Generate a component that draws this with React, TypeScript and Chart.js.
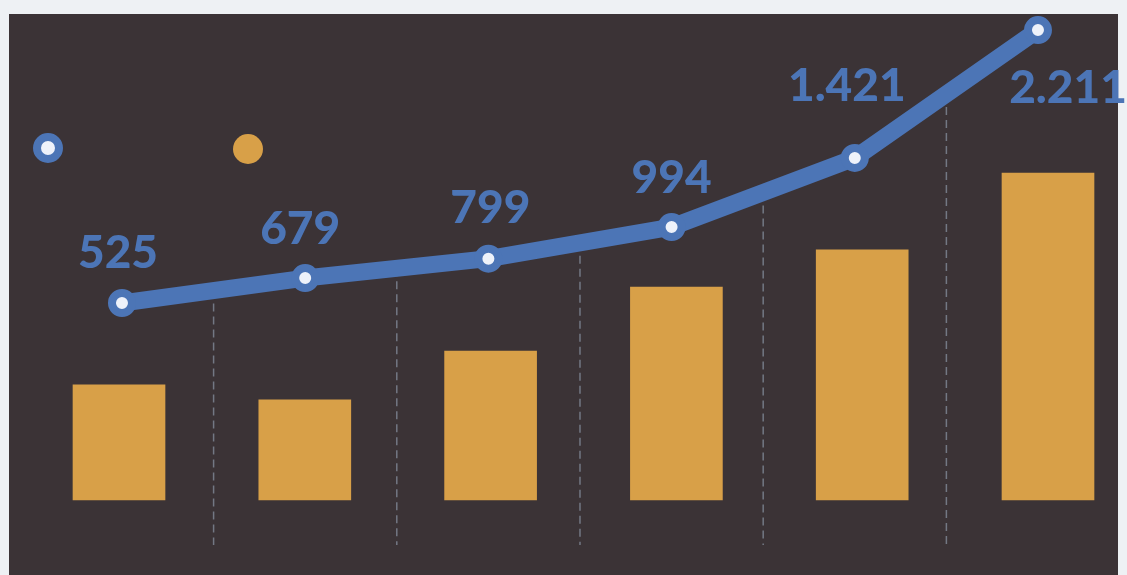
import React, { useEffect, useRef } from "react";
import { Chart, registerables } from "chart.js";

Chart.register(...registerables);

const categories = ["1", "2", "3", "4", "5", "6"];
const lineValues = [525, 679, 799, 994, 1421, 2211];
const barValues = [4610, 4010, 5970, 8530, 10020, 13100];

const BG_OUTER = "#eef1f4";
const BG_PANEL = "#3b3336";
const BLUE = "#4c75b6";
const GOLD = "#d8a048";
const GRID = "#737884";

function fmt(n: number): string {
  if (n < 1000) return String(n);
  return Math.floor(n / 1000) + "." + String(n % 1000).padStart(3, "0");
}

// per-point label placement tweaks (style only)
const labelDx = [-4, -5, 2, 0, -8, 30];
const labelDy = [-35, -34, -36, -34, -57, 73];

const decorPlugin = {
  id: "decor",
  beforeDraw(chart: any) {
    const { ctx, width, height } = chart;
    ctx.save();
    ctx.fillStyle = BG_OUTER;
    ctx.fillRect(0, 0, width, height);
    ctx.fillStyle = BG_PANEL;
    ctx.fillRect(9, 14, 1109, height - 14);
    ctx.restore();
  },
  beforeDatasetsDraw(chart: any) {
    const { ctx } = chart;
    const meta = chart.getDatasetMeta(0);
    const pts = meta.data;
    const bottom = chart.chartArea.bottom - 30;
    ctx.save();
    ctx.strokeStyle = GRID;
    ctx.lineWidth = 1.5;
    ctx.setLineDash([8, 5]);
    for (let i = 0; i < pts.length - 1; i++) {
      const a = pts[i];
      const b = pts[i + 1];
      const x = (a.x + b.x) / 2;
      const y = (a.y + b.y) / 2;
      ctx.beginPath();
      ctx.moveTo(x, y);
      ctx.lineTo(x, bottom);
      ctx.stroke();
    }
    ctx.restore();
  },
  afterDatasetsDraw(chart: any) {
    const { ctx } = chart;
    const meta = chart.getDatasetMeta(0);
    ctx.save();
    ctx.fillStyle = BLUE;
    ctx.font = "900 46px Lato";
    ctx.textAlign = "center";
    ctx.textBaseline = "alphabetic";
    meta.data.forEach((p: any, i: number) => {
      ctx.fillText(fmt(lineValues[i]), p.x + labelDx[i], p.y + labelDy[i]);
    });
    // legend markers
    const lx = 48, ly = 148;
    ctx.beginPath();
    ctx.arc(lx, ly, 11, 0, Math.PI * 2);
    ctx.fillStyle = "#eef2fa";
    ctx.fill();
    ctx.lineWidth = 8;
    ctx.strokeStyle = BLUE;
    ctx.stroke();
    ctx.beginPath();
    ctx.arc(248, ly + 1, 15, 0, Math.PI * 2);
    ctx.fillStyle = GOLD;
    ctx.fill();
    ctx.restore();
  },
};

export default function App() {
  const ref = useRef<HTMLCanvasElement | null>(null);
  useEffect(() => {
    if (!ref.current) return;
    const chart = new Chart(ref.current, {
      type: "bar",
      data: {
        labels: categories,
        datasets: [
          {
            type: "line",
            label: "line",
            data: lineValues.map((v, i) => ({ x: i, y: v })),
            xAxisID: "xl",
            yAxisID: "yl",
            borderColor: BLUE,
            borderWidth: 17,
            borderJoinStyle: "round",
            borderCapStyle: "round",
            tension: 0,
            pointRadius: 10,
            pointBorderWidth: 8,
            pointBackgroundColor: "#eef2fa",
            pointBorderColor: BLUE,
            order: 0,
            clip: false,
          } as any,
          {
            type: "bar",
            label: "bar",
            data: barValues.map((v, i) => ({ x: i, y: v })),
            xAxisID: "xb",
            yAxisID: "yb",
            backgroundColor: GOLD,
            barThickness: 92,
            grouped: false,
            order: 1,
          } as any,
        ],
      },
      options: {
        animation: false,
        responsive: true,
        maintainAspectRatio: false,
        layout: { padding: 0, autoPadding: false },
        plugins: { legend: { display: false }, tooltip: { enabled: false }, title: { display: false } },
        scales: {
          xb: { type: "linear", display: false, offset: false, min: -0.6405, max: 5.4252 },
          xl: { type: "linear", display: false, offset: false, min: -0.6659, max: 5.4859 },
          yb: { type: "linear", display: false, min: -3005, max: 20031 },
          yl: { type: "linear", display: false, min: -1155, max: 2396.5 },
        },
      },
      plugins: [decorPlugin],
    });
    return () => chart.destroy();
  }, []);
  return (
    <div style={{ position: "fixed", left: 0, top: 0, width: "100vw", height: "100vh" }}>
      <canvas ref={ref} />
    </div>
  );
}
